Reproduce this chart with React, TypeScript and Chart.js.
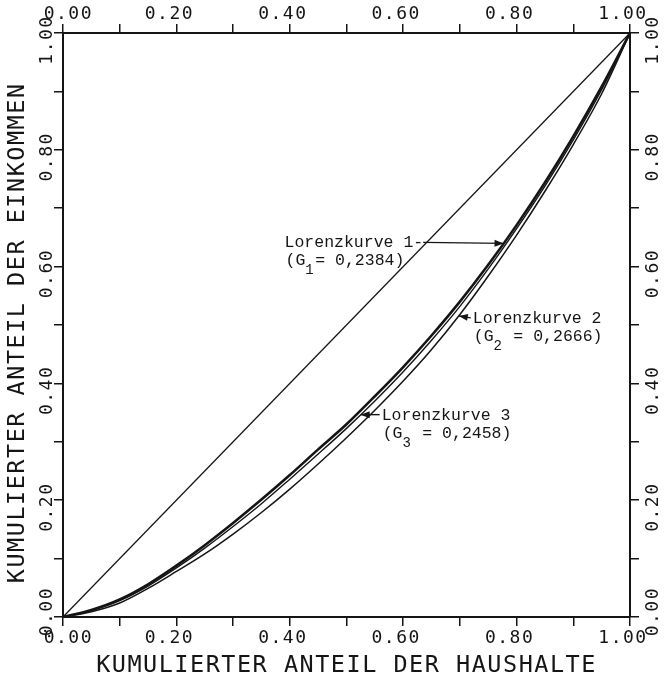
import { useEffect, useRef } from 'react';
import { Chart, registerables } from 'chart.js';

Chart.register(...registerables);

// cumulative share of households (x)
const householdShare = [0, 0.05, 0.1, 0.15, 0.2, 0.25, 0.3, 0.35, 0.4, 0.45, 0.5, 0.55, 0.6, 0.65, 0.7, 0.75, 0.8, 0.85, 0.9, 0.95, 1];
// cumulative share of income (y) for each Lorenz curve
const lorenz1 = [0, 0.012, 0.03, 0.056, 0.088, 0.123, 0.161, 0.201, 0.243, 0.287, 0.33, 0.378, 0.428, 0.482, 0.54, 0.603, 0.671, 0.744, 0.823, 0.908, 1];
const lorenz2 = [0, 0.009, 0.024, 0.049, 0.078, 0.108, 0.142, 0.179, 0.219, 0.262, 0.307, 0.354, 0.404, 0.458, 0.518, 0.584, 0.654, 0.729, 0.809, 0.896, 1];
const lorenz3 = [0, 0.011, 0.028, 0.053, 0.084, 0.118, 0.155, 0.194, 0.236, 0.279, 0.323, 0.37, 0.42, 0.474, 0.532, 0.596, 0.665, 0.738, 0.817, 0.903, 1];
// line of equal distribution
const equalityX = [0, 1];
const equalityY = [0, 1];

const tickLabels = ['0.00', '0.20', '0.40', '0.60', '0.80', '1.00'];
const xTitle = 'KUMULIERTER ANTEIL DER HAUSHALTE';
const yTitle = 'KUMULIERTER ANTEIL DER EINKOMMEN ';

const curveNames = ['Lorenzkurve 1', 'Lorenzkurve 2', 'Lorenzkurve 3'];
const curveSubs = ['1', '2', '3'];
const giniTexts = ['= 0,2384)', ' = 0,2666)', ' = 0,2458)'];

const INK = '#151515';
const MONO = '"DejaVu Sans Mono", monospace';
const NOTE_FONT = '"Liberation Mono", monospace';

// annotation placement (layout only): curve index, x where the arrow touches, text offsets in px
const notes = [
  { curve: 0, at: 0.777, side: 'left', dx: -219, dy: 4, hyphen: true },
  { curve: 1, at: 0.698, side: 'right', dx: 14, dy: 7, hyphen: false },
  { curve: 2, at: 0.525, side: 'right', dx: 21, dy: 5, hyphen: false },
];

const curves = [lorenz1, lorenz2, lorenz3];

function interp(xs: number[], ys: number[], x: number) {
  for (let i = 1; i < xs.length; i++) {
    if (x <= xs[i]) {
      const t = (x - xs[i - 1]) / (xs[i] - xs[i - 1]);
      return ys[i - 1] + t * (ys[i] - ys[i - 1]);
    }
  }
  return ys[ys.length - 1];
}

function tickCb(pad: string) {
  return (v: any) => {
    const k = Math.round(Number(v) * 10);
    if (k % 2) return '';
    const s = tickLabels[k / 2];
    return k === 0 ? pad + s : s;
  };
}

const spacingPlugin = {
  id: 'plotterSpacing',
  beforeUpdate(c: any) { c.ctx.letterSpacing = '1.5px'; },
  beforeDraw(c: any) { c.ctx.letterSpacing = '1.5px'; },
};

function arrowHead(ctx: any, fx: number, fy: number, tx: number, ty: number) {
  const a = Math.atan2(ty - fy, tx - fx);
  const L = 9, W = 3.5;
  ctx.beginPath();
  ctx.moveTo(tx, ty);
  ctx.lineTo(tx - L * Math.cos(a) + W * Math.sin(a), ty - L * Math.sin(a) - W * Math.cos(a));
  ctx.lineTo(tx - L * Math.cos(a) - W * Math.sin(a), ty - L * Math.sin(a) + W * Math.cos(a));
  ctx.closePath();
  ctx.fill();
}

const notesPlugin = {
  id: 'lorenzNotes',
  afterDatasetsDraw(chart: any) {
    const { ctx, scales } = chart;
    const xs = scales.x, ys = scales.y;
    ctx.save();
    ctx.letterSpacing = '0px';
    ctx.fillStyle = INK;
    ctx.strokeStyle = INK;
    ctx.textBaseline = 'alphabetic';
    ctx.textAlign = 'left';
    notes.forEach((n) => {
      const tipX = xs.getPixelForValue(n.at);
      const tipY = ys.getPixelForValue(interp(householdShare, curves[n.curve], n.at));
      const tx = tipX + n.dx;
      const by = tipY + n.dy;
      const main = curveNames[n.curve] + (n.hyphen ? '-' : '');
      ctx.font = `16.5px ${NOTE_FONT}`;
      ctx.fillText(main, tx, by);
      const w = ctx.measureText(main).width;
      const cell = ctx.measureText('0').width;
      ctx.lineWidth = 1.4;
      let fx: number, fy: number;
      if (n.side === 'left') { fx = tx + w; fy = by - 5; }
      else { fx = tx - 2; fy = by - 5; }
      ctx.beginPath();
      ctx.moveTo(fx, fy);
      ctx.lineTo(tipX, tipY);
      ctx.stroke();
      arrowHead(ctx, fx, fy, tipX, tipY);
      // second line: (G_i = value)
      const lx = tx + 1;
      const ly = by + 18;
      ctx.fillText('(G', lx, ly);
      const gw = ctx.measureText('(G').width;
      ctx.font = `14px ${NOTE_FONT}`;
      ctx.fillText(curveSubs[n.curve], lx + gw, ly + 9);
      ctx.font = `16.5px ${NOTE_FONT}`;
      ctx.fillText(giniTexts[n.curve], lx + gw + cell, ly);
    });
    ctx.restore();
  },
};

export default function App() {
  const ref = useRef<HTMLCanvasElement | null>(null);
  useEffect(() => {
    if (!ref.current) return;
    const tickFont = { family: MONO, size: 18 };
    const titleFont = { family: MONO, size: 23.5 };
    const grid = { drawOnChartArea: false, drawTicks: true, tickLength: 9, lineWidth: 1.5, color: INK };
    const border = { display: true, width: 2, color: INK };
    const pts = (xv: number[], yv: number[]) => xv.map((x, i) => ({ x, y: yv[i] }));
    const line = (data: any, width: number) => ({
      data, borderColor: INK, borderWidth: width, pointRadius: 0, showLine: true, fill: false,
      tension: 0.4, cubicInterpolationMode: 'monotone', xAxisID: 'x', yAxisID: 'y',
    });
    const chart = new Chart(ref.current, {
      type: 'scatter',
      data: {
        datasets: [
          line(pts(equalityX, equalityY), 1.3),
          line(pts(householdShare, lorenz2), 1.5),
          line(pts(householdShare, lorenz3), 1.4),
          line(pts(householdShare, lorenz1), 2.6),
        ] as any,
      },
      options: {
        animation: false,
        responsive: false,
        events: [],
        layout: { padding: 0 },
        plugins: { legend: { display: false }, tooltip: { enabled: false } },
        scales: {
          x: {
            type: 'linear', position: 'bottom', min: 0, max: 1,
            ticks: { stepSize: 0.1, autoSkip: false, minRotation: 0, maxRotation: 0, font: tickFont, color: INK, padding: 2, labelOffset: -7, callback: tickCb('  ') },
            grid, border,
            title: { display: true, text: xTitle, font: titleFont, color: INK, padding: { top: 0, bottom: 0 } },
            afterFit: (s: any) => { s.height = 63; },
          },
          x2: {
            type: 'linear', position: 'top', min: 0, max: 1,
            ticks: { stepSize: 0.1, autoSkip: false, minRotation: 0, maxRotation: 0, font: tickFont, color: INK, padding: -1, labelOffset: -7, callback: tickCb('  ') },
            grid, border,
            afterFit: (s: any) => { s.height = 33; },
          },
          y: {
            type: 'linear', position: 'left', min: 0, max: 1,
            ticks: { stepSize: 0.1, autoSkip: false, minRotation: 90, maxRotation: 90, crossAlign: 'center', font: tickFont, color: INK, padding: -30.5, labelOffset: 7, callback: tickCb('  ') },
            grid, border,
            title: { display: true, text: yTitle, font: titleFont, color: INK, padding: { top: 4, bottom: 0 } },
            afterFit: (s: any) => { s.width = 63; },
          },
          y2: {
            type: 'linear', position: 'right', min: 0, max: 1,
            ticks: { stepSize: 0.1, autoSkip: false, minRotation: 90, maxRotation: 90, crossAlign: 'center', font: tickFont, color: INK, padding: -23, labelOffset: 7, callback: tickCb('  ') },
            grid, border,
            afterFit: (s: any) => { s.width = 34; },
          },
        } as any,
      },
      plugins: [spacingPlugin, notesPlugin] as any,
    });
    return () => chart.destroy();
  }, []);
  return (
    <div style={{ position: 'fixed', left: 0, top: 0, width: 664, height: 680, background: '#fff' }}>
      <canvas ref={ref} width={664} height={680} style={{ display: 'block', width: 664, height: 680 }} />
    </div>
  );
}
